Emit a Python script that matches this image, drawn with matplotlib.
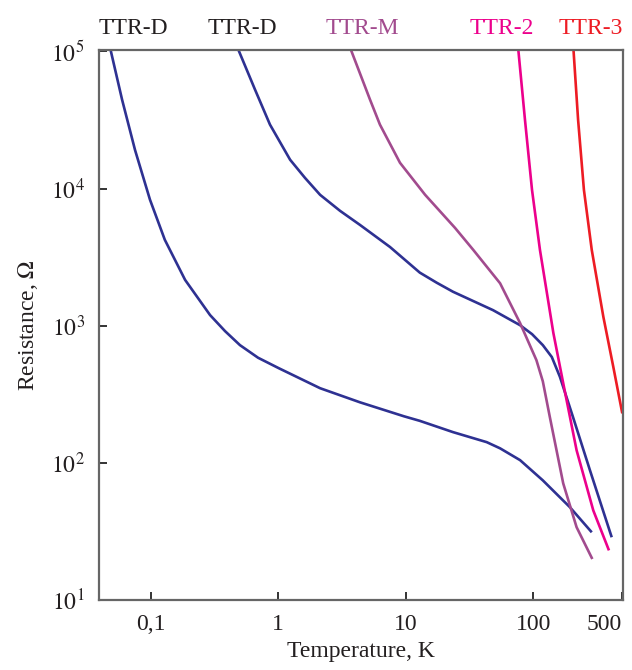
import matplotlib as mpl
mpl.use('Agg')
from matplotlib import pyplot as plt
import matplotlib.ticker as ticker
import numpy as np

plt.rcParams['font.family'] = ['Liberation Serif', 'DejaVu Serif']
plt.rcParams['mathtext.fontset'] = 'stix'

# curves: temperature (K), resistance (Ohm)
T_d1 = [0.048, 0.0596, 0.0753, 0.0987, 0.129, 0.186, 0.292, 0.383, 0.501, 0.695, 1.01, 2.13,
        4.38, 9.71, 12.9, 23.5, 43.2, 55, 78.9, 119, 194, 288]
R_d1 = [1.06e5, 44400, 19100, 8280, 4230, 2160, 1197, 914, 723, 585, 491, 351,
        277, 219, 203, 168, 142, 128, 105, 74.8, 47.7, 31.3]

T_d2 = [0.486, 0.658, 0.862, 1.24, 1.62, 2.13, 3.06, 4.38, 7.53, 12.9, 17.5, 23.5, 48.4,
        78.9, 98, 119, 140, 162, 205, 279, 413]
R_d2 = [1.03e5, 52500, 29200, 16200, 11970, 9000, 6870, 5430, 3750, 2440, 2060, 1770, 1300,
        1010, 869, 723, 592, 425, 217, 88.4, 28.8]

T_m = [3.71, 5.25, 6.28, 9.02, 14.2, 24.4, 33.9, 55, 78.9, 106, 119, 135, 172, 219, 291]
R_m = [1.03e5, 44400, 29200, 15400, 9000, 5160, 3570, 2040, 1047, 562, 394, 217, 71.1, 34.1, 20.0]

T_2 = [76.4, 86.2, 97.9, 113, 144, 172, 219, 296, 393]
R_2 = [1.03e5, 31700, 9770, 3570, 885, 382, 124, 45.2, 23.1]

T_3 = [207, 225, 250, 288, 355, 425, 500]
R_3 = [1.03e5, 31700, 9770, 3570, 1164, 502, 230]

names = ['TTR-D', 'TTR-D', 'TTR-M', 'TTR-2', 'TTR-3']
label_x = [0.0733, 0.525, 4.58, 56.9, 284]
line_colors = ['#2e3192', '#2e3192', '#a24b8e', '#ec008c', '#ed1c24']
text_colors = ['#231f20', '#231f20', '#a24b8e', '#ec008c', '#ed1c24']

xticks = [0.1, 1, 10, 100, 500]
xticklabels = ['0,1', '1', '10', '100', '500']
yticks = [1e1, 1e2, 1e3, 1e4, 1e5]

fig = plt.figure(figsize=(6.32, 6.7), dpi=100)
ax = fig.add_axes([0.156, 0.104, 0.829, 0.821])

curves = [(T_d1, R_d1), (T_d2, R_d2), (T_m, R_m), (T_2, R_2), (T_3, R_3)]
for (T, R), c in zip(curves, line_colors):
    ax.plot(T, R, color=c, linewidth=1.9, solid_capstyle='butt', solid_joinstyle='round')

ax.set_xscale('log')
ax.set_yscale('log')
ax.set_xlim(0.039, 502)
ax.set_ylim(10, 1.017e5)

ax.set_xticks(xticks)
ax.set_xticklabels(xticklabels)
ax.set_yticks(yticks)
ax.yaxis.set_major_formatter(ticker.FuncFormatter(lambda v, p: r'$10^{%d}$' % round(np.log10(v))))
ax.xaxis.set_minor_locator(ticker.NullLocator())
ax.yaxis.set_minor_locator(ticker.NullLocator())

for s in ['top', 'right', 'left', 'bottom']:
    ax.spines[s].set_color('#666666')
    ax.spines[s].set_linewidth(1.6)

ax.tick_params(direction='in', length=6, width=1.4, color='#333333',
               labelsize=17, labelcolor='#231f20')
ax.tick_params(axis='x', pad=10)
ax.tick_params(axis='y', pad=10)

# last label sits against the right edge
ax.get_xticklabels()[-1].set_horizontalalignment('right')

ax.set_xlabel('Temperature, K', fontsize=17, color='#231f20', labelpad=4)
ax.set_ylabel('Resistance, $\\Omega$', fontsize=17, color='#231f20', labelpad=8)

trans = mpl.transforms.blended_transform_factory(ax.transData, ax.transAxes)
for name, x, c in zip(names, label_x, text_colors):
    ax.text(x, 1.029, name, transform=trans, ha='center', va='baseline',
            fontsize=17, color=c)

plt.savefig('out.png', dpi=100)
plt.close()
